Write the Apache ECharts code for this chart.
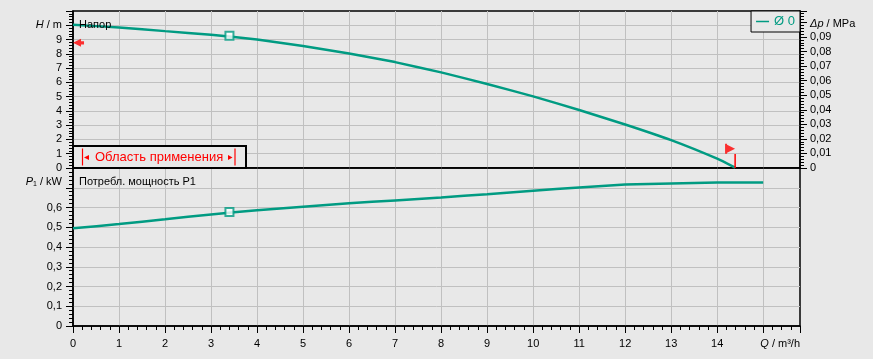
<!DOCTYPE html>
<html><head><meta charset="utf-8">
<script src="https://cdn.jsdelivr.net/npm/echarts@6/dist/echarts.min.js"></script>
<style>html,body{margin:0;padding:0;background:#e8e8e8}#c{width:873px;height:359px}</style>
</head><body><div id="c"></div>
<script>
// ---- data ----
const flowHead = [0, 1, 2, 3, 4, 5, 6, 7, 8, 9, 10, 11, 12, 13, 14, 14.39];
const head = [10.03, 9.85, 9.59, 9.33, 9.00, 8.55, 8.02, 7.42, 6.70, 5.89, 5.02, 4.06, 3.05, 1.95, 0.65, 0.02];
const flowPower = [0, 1, 2, 3, 4, 5, 6, 7, 8, 9, 10, 11, 12, 13, 14, 15];
const power = [0.495, 0.516, 0.540, 0.565, 0.586, 0.604, 0.621, 0.636, 0.651, 0.667, 0.685, 0.701, 0.716, 0.722, 0.726, 0.727];
const opFlow = 3.4, opHead = 9.26, opPower = 0.577;
const rangeStartMark = [0.12, 8.77];
const rangeEndFlag = [14.28, 1.34];
const rangeEndLine = [[14.39, 0], [14.39, 0.98]];
const seriesName = 'Ø 0';
const xTickLabels = ['0','1','2','3','4','5','6','7','8','9','10','11','12','13','14'];
const M_PER_MPA = 101.97;

const TEAL = '#009b82', RED = '#ff0000', GRIDC = '#c0c0c0', BG = '#e8e8e8';
const FF = '"Liberation Sans", Arial, sans-serif';
const HMAX = 11, QMAX = 15.8, PMAX = 0.8;

const chart = echarts.init(document.getElementById('c'));
const lbl = (extra) => Object.assign({color: '#000', fontSize: 11, fontFamily: FF}, extra);
const splitL = {show: true, showMinLine: false, showMaxLine: false, lineStyle: {color: GRIDC, width: 1}};
const axL = {show: true, onZero: false, lineStyle: {color: '#000', width: 1.5}};
const tick = {show: true, length: 7, lineStyle: {color: '#000', width: 1}};
const minor = {show: true, splitNumber: 5, length: 4, lineStyle: {color: '#000', width: 1}};

const option = {
  backgroundColor: BG,
  animation: false,
  textStyle: {fontFamily: FF},
  legend: {
    data: [seriesName], right: 73, top: 11, padding: [4, 5, 4, 5],
    borderColor: '#000', borderWidth: 1, backgroundColor: BG,
    icon: 'rect', itemWidth: 13, itemHeight: 1.5, itemGap: 5,
    textStyle: {color: TEAL, fontSize: 13, fontFamily: FF}
  },
  grid: [
    {left: 73, right: 73, top: 11, height: 157, show: true, backgroundColor: BG, borderColor: '#000', borderWidth: 1.5, outerBoundsMode: 'none'},
    {left: 73, right: 73, top: 168, height: 158, show: true, backgroundColor: BG, borderColor: '#000', borderWidth: 1.5, outerBoundsMode: 'none'}
  ],
  xAxis: [
    {type: 'value', gridIndex: 0, min: 0, max: QMAX, interval: 1,
     axisLine: axL, axisTick: {show: false}, axisLabel: {show: false}, splitLine: splitL},
    {type: 'value', gridIndex: 1, min: 0, max: QMAX, interval: 1,
     axisLine: axL, axisTick: tick, minorTick: minor, splitLine: splitL,
     axisLabel: lbl({margin: 12, formatter: v => {const i = Math.round(v); return (Math.abs(v - i) < 1e-6 && i < xTickLabels.length) ? xTickLabels[i] : '';}}),
     name: '{i|Q} / m³/h', nameLocation: 'end', nameGap: 0, nameMoveOverlap: false,
     nameTextStyle: lbl({align: 'right', verticalAlign: 'top', padding: [12, 0, 0, 0],
       rich: {i: {fontStyle: 'italic', fontSize: 11, fontFamily: FF, color: '#000'}}})}
  ],
  yAxis: [
    {type: 'value', gridIndex: 0, min: 0, max: HMAX, interval: 1, position: 'left',
     axisLine: axL, axisTick: tick, minorTick: minor, splitLine: splitL,
     axisLabel: lbl({margin: 11, formatter: v => {const i = Math.round(v); return (Math.abs(v - i) < 1e-6 && i <= 9) ? String(i) : '';}}),
     name: '{i|H} / m', nameLocation: 'end', nameGap: -14, nameMoveOverlap: false,
     nameTextStyle: lbl({align: 'right', verticalAlign: 'middle', padding: [0, 11, 0, 0],
       rich: {i: {fontStyle: 'italic', fontSize: 11, fontFamily: FF, color: '#000'}}})},
    {type: 'value', gridIndex: 0, min: 0, max: HMAX / M_PER_MPA, interval: 0.01, position: 'right',
     axisLine: axL, axisTick: tick, minorTick: minor, splitLine: {show: false},
     axisLabel: lbl({margin: 10, formatter: v => {const n = Math.round(v * 100); if (Math.abs(v * 100 - n) > 1e-6 || n > 9) return ''; return n === 0 ? '0' : '0,0' + n;}}),
     name: '{i|Δp} / MPa', nameLocation: 'end', nameGap: -13, nameMoveOverlap: false,
     nameTextStyle: lbl({align: 'left', verticalAlign: 'middle', padding: [0, 0, 0, 10],
       rich: {i: {fontStyle: 'italic', fontSize: 11, fontFamily: FF, color: '#000'}}})},
    {type: 'value', gridIndex: 1, min: 0, max: PMAX, interval: 0.1, position: 'left',
     axisLine: axL, axisTick: tick, minorTick: minor, splitLine: splitL,
     axisLabel: lbl({margin: 11, formatter: v => {const n = Math.round(v * 10); if (Math.abs(v * 10 - n) > 1e-6 || n > 6) return ''; return n === 0 ? '0' : '0,' + n;}}),
     name: '{i|P}{s|1} / kW', nameLocation: 'end', nameGap: -14, nameMoveOverlap: false,
     nameTextStyle: lbl({align: 'right', verticalAlign: 'middle', padding: [0, 11, 0, 0],
       rich: {i: {fontStyle: 'italic', fontSize: 11, fontFamily: FF, color: '#000'},
              s: {fontSize: 7, fontFamily: FF, color: '#000', verticalAlign: 'bottom', padding: [3, 0, 0, 0]}}})}
  ],
  series: [
    {name: seriesName, type: 'line', xAxisIndex: 0, yAxisIndex: 0, symbol: 'none', smooth: 0.15,
     data: flowHead.map((q, i) => [q, head[i]]), lineStyle: {color: TEAL, width: 2.5}, itemStyle: {color: TEAL}, z: 3},
    {name: seriesName, type: 'line', xAxisIndex: 1, yAxisIndex: 2, symbol: 'none', smooth: 0.15,
     data: flowPower.map((q, i) => [q, power[i]]), lineStyle: {color: TEAL, width: 2.5}, itemStyle: {color: TEAL}, z: 3},
    {name: 'op-h', type: 'scatter', xAxisIndex: 0, yAxisIndex: 0, symbol: 'rect', symbolSize: 8,
     data: [[opFlow, opHead]], itemStyle: {color: '#fff', borderColor: TEAL, borderWidth: 2}, z: 5},
    {name: 'op-p', type: 'scatter', xAxisIndex: 1, yAxisIndex: 2, symbol: 'rect', symbolSize: 8,
     data: [[opFlow, opPower]], itemStyle: {color: '#fff', borderColor: TEAL, borderWidth: 2}, z: 5},
    {name: 'range-start', type: 'scatter', xAxisIndex: 0, yAxisIndex: 0,
     symbol: 'path://M0,5L8,0L8,3L11,3L11,7L8,7L8,10Z', symbolSize: [11, 8],
     data: [rangeStartMark], itemStyle: {color: RED}, z: 6},
    {name: 'range-end-flag', type: 'scatter', xAxisIndex: 0, yAxisIndex: 0,
     symbol: 'path://M0,0L2,0L2,1L10,5L2,9L2,10L0,10Z', symbolSize: [10, 10],
     data: [rangeEndFlag], itemStyle: {color: RED}, z: 6},
    {name: 'range-end-line', type: 'line', xAxisIndex: 0, yAxisIndex: 0, symbol: 'none',
     data: rangeEndLine, lineStyle: {color: RED, width: 1.5}, z: 6}
  ],
  graphic: [
    {type: 'text', x: 79, y: 25, z: 100, style: {text: 'Напор', fill: '#000', font: '11px ' + FF, verticalAlign: 'middle'}},
    {type: 'text', x: 79, y: 181.5, z: 100, style: {text: 'Потребл. мощность P1', fill: '#000', font: '11px ' + FF, verticalAlign: 'middle'}},
    {type: 'rect', z: 100, shape: {x: 73, y: 146, width: 173, height: 22}, style: {fill: BG, stroke: '#000', lineWidth: 2}},
    {type: 'line', z: 101, shape: {x1: 82.5, y1: 148.5, x2: 82.5, y2: 165.5}, style: {stroke: RED, lineWidth: 1.2}},
    {type: 'polygon', z: 101, shape: {points: [[84, 157.5], [89, 155], [89, 160]]}, style: {fill: RED}},
    {type: 'text', z: 101, x: 95, y: 157.5, style: {text: 'Область применения', fill: RED, font: '13px ' + FF, verticalAlign: 'middle'}},
    {type: 'polygon', z: 101, shape: {points: [[232.5, 157.5], [228, 155], [228, 160]]}, style: {fill: RED}},
    {type: 'line', z: 101, shape: {x1: 235, y1: 148.5, x2: 235, y2: 165.5}, style: {stroke: RED, lineWidth: 1.2}}
  ]
};
chart.setOption(option);
</script></body></html>
